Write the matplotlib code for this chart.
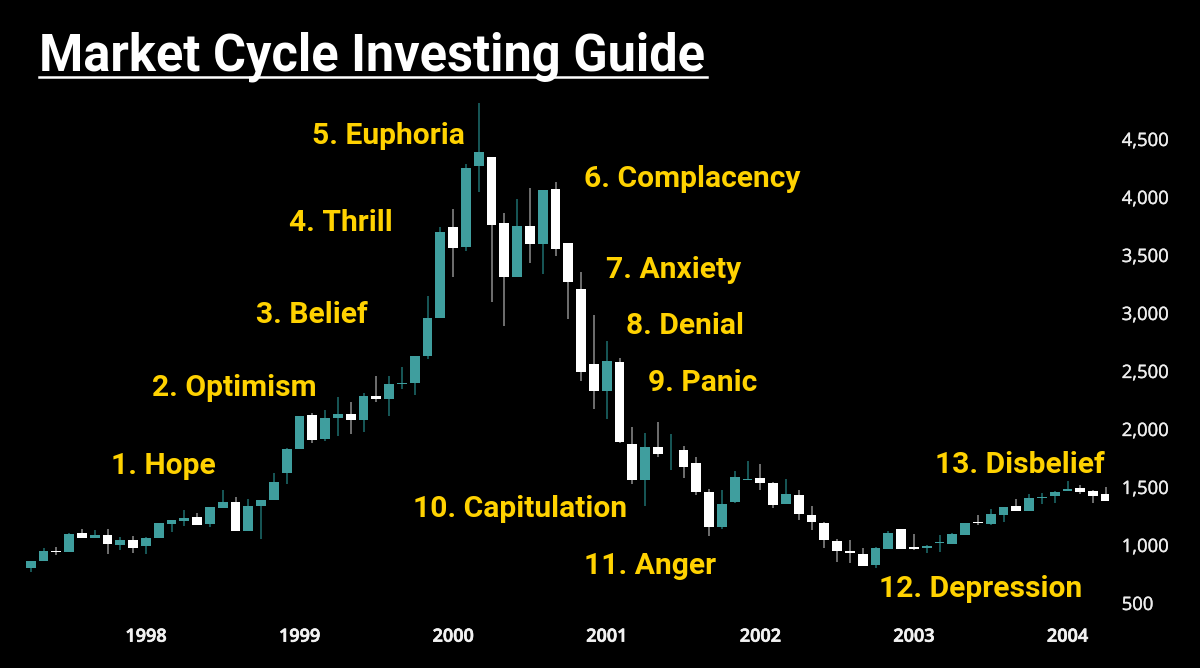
import numpy as np
import matplotlib
matplotlib.use("Agg")
import matplotlib.pyplot as plt
import matplotlib.patheffects as pe

opens = [805,862,948,942,1100,1063,1086,1003,1040,994,1057,1184,1207,1238,1178,1322,1370,1123,1336,1388,1618,1824,
         2118,1914,2098,2130,2075,2288,2259,2385,2394,2627,2954,3741,3569,4267,4342,3778,3313,3752,3591,4071,3603,3203,
         2560,2327,2574,1868,1557,1842,1815,1819,1710,1460,1153,1368,1561,1581,1535,1357,1434,1262,1193,1038,946,920,831,969,
         1135,985,974,1014,1011,1089,1201,1181,1258,1339,1295,1408,1425,1462,1491,1462,1440]
highs = [865,977,980,1100,1138,1129,1138,1066,1077,1072,1192,1215,1299,1273,1328,1474,1411,1399,1388,1620,1833,2115,
         2141,2161,2279,2230,2313,2460,2457,2538,2632,3147,3738,3896,4284,4807,4342,3864,3979,4074,4062,4131,3603,3356,
         2982,2761,2609,2020,1968,2060,1954,1857,1756,1486,1474,1635,1724,1699,1543,1569,1474,1337,1199,1049,1043,972,983,1124,
         1140,1091,1002,1089,1106,1192,1258,1310,1330,1396,1439,1445,1462,1548,1514,1474,1503]
lows = [770,862,911,940,1060,1063,919,957,934,919,1057,1115,1166,1172,1155,1322,1123,1123,1054,1388,1528,1824,
        1879,1900,1940,1957,1977,2230,2112,2348,2293,2606,2954,3310,3534,4040,3098,2890,3313,3428,3336,3494,2951,2416,
        2172,2083,1876,1526,1339,1761,1646,1575,1431,1081,1135,1362,1561,1474,1316,1357,1216,1133,972,857,848,817,799,969,
        968,956,933,939,1011,1089,1169,1172,1195,1290,1295,1353,1364,1462,1442,1359,1382]
closes = [865,945,942,1098,1060,1083,1006,1040,971,1060,1187,1212,1235,1175,1325,1370,1123,1336,1388,1546,1824,2115,
          1905,2098,2130,2075,2285,2259,2388,2397,2627,2957,3695,3558,4250,4385,3759,3307,3752,3591,4062,3554,3270,2494,
          2327,2583,1888,1563,1842,1784,1820,1670,1454,1156,1357,1584,1569,1538,1348,1440,1268,1196,1041,952,931,817,977,1104,
          968,965,994,1020,1094,1186,1189,1267,1330,1293,1405,1416,1459,1482,1453,1425,1382]

year_positions = [9,21,33,45,57,69,81]
year_labels = ["1998","1999","2000","2001","2002","2003","2004"]
price_ticks = [500,1000,1500,2000,2500,3000,3500,4000,4500]

title = "Market Cycle Investing Guide"
stage_labels = ["1. Hope","2. Optimism","3. Belief","4. Thrill","5. Euphoria","6. Complacency",
                "7. Anxiety","8. Denial","9. Panic","10. Capitulation","11. Anger","12. Depression","13. Disbelief"]
stage_x_px = [111,152,256,289,312,584,606,626,648,413,584,879,935]
stage_y_px = [463,385,312,220,133,176,267,323,380,506,563,586,462]

W, H = 1200, 668
BG = "#000000"
TEAL, TEAL_WICK = "#3F9E9E", "#1E6E6E"
WHITE, WHITE_WICK = "#FFFFFF", "#8C8C8C"
YELLOW = "#FFD200"

fig = plt.figure(figsize=(W/100, H/100), dpi=100, facecolor=BG)
AX_RIGHT, AX_BOTTOM = 1108.5, 620
ax = fig.add_axes([0, 1-AX_BOTTOM/H, AX_RIGHT/W, AX_BOTTOM/H], facecolor=BG)

o, h, l, c = map(np.array, (opens, highs, lows, closes))
idx = np.arange(len(o))
up = c >= o
fill = np.where(up, TEAL, WHITE)
wick = np.where(up, TEAL_WICK, WHITE_WICK)

ax.vlines(idx, l, h, colors=wick, linewidth=1.1, zorder=2)
ax.bar(idx, np.maximum(np.abs(c-o), 8), bottom=np.minimum(o, c), width=0.78, color=fill, linewidth=0, zorder=3)

# month index -> px: 30.7 + 12.8 i ; price -> px: 603 - (v-500)*0.116
ax.set_xlim(-30.7/12.8, (AX_RIGHT-30.7)/12.8)
ax.set_ylim(500-(AX_BOTTOM-603)/0.116, 500+603/0.116)

ax.set_xticks(year_positions, year_labels, fontfamily="Open Sans", fontweight="semibold", fontsize=13, color="#F2F2F2")
ax.set_yticks(price_ticks, [f"{v:,}" for v in price_ticks], fontfamily="Open Sans", fontsize=13.3, color="#EEEEEE")
ax.yaxis.tick_right()
ax.tick_params(axis="both", length=0)
ax.tick_params(axis="y", pad=9.5)
ax.tick_params(axis="x", pad=5.5)
for s in ax.spines.values():
    s.set_visible(False)
for lab in ax.get_xticklabels():
    lab.set_path_effects([pe.withStroke(linewidth=0.5, foreground="#F2F2F2")])
for lab in ax.get_yticklabels():
    lab.set_path_effects([pe.withStroke(linewidth=0.25, foreground="#EEEEEE")])

for t, x, y in zip(stage_labels, stage_x_px, stage_y_px):
    fig.text(x/W, 1-y/H, t, color=YELLOW, fontfamily="Roboto", fontweight="bold", fontsize=21.6, ha="left", va="center_baseline")

ttl = fig.text(39.5/W, 1-71/H, title, color="white", fontfamily="Roboto", fontweight="bold", fontsize=36.4, ha="left", va="baseline")
fig.add_artist(plt.Line2D([39/W, 707/W], [1-77/H, 1-77/H], color="white", linewidth=1.8))

fig.savefig("out.png", dpi=100, facecolor=BG)
